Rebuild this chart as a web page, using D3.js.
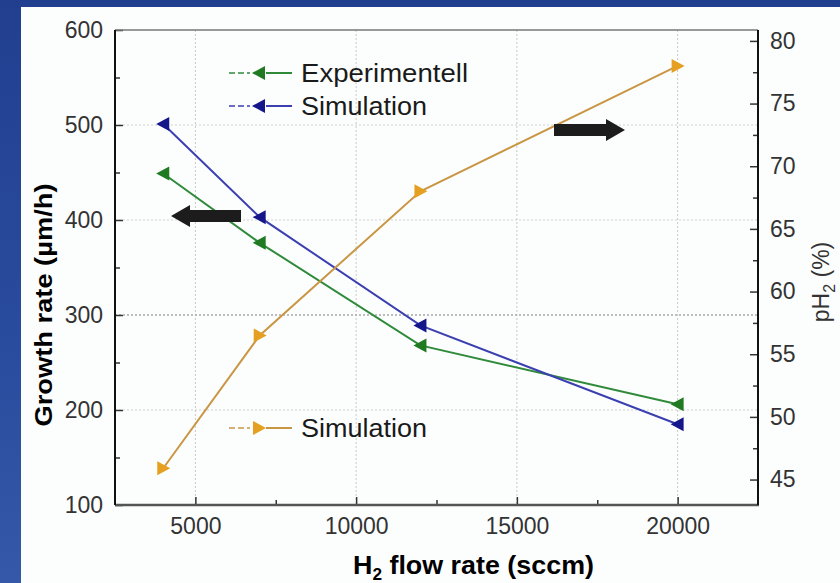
<!DOCTYPE html>
<html><head><meta charset="utf-8">
<script src="https://cdn.jsdelivr.net/npm/d3@7"></script>
<style>
html,body{margin:0;padding:0;background:#fff;}
svg{display:block;}
</style></head>
<body>
<svg id="c" width="840" height="583"></svg>
<script>
// ---- data ----
const flowRates = [4000, 7000, 12000, 20000];
const growthExperimentell = [449, 376, 268, 206];
const growthSimulation = [501, 403, 289, 185];
const pH2Simulation = [45.9, 56.5, 68.0, 78.0];
const xTicks = [5000, 10000, 15000, 20000];
const xMinorTicks = [7500, 12500, 17500];
const yLeftTicks = [100, 200, 300, 400, 500, 600];
const yLeftMinor = [150, 250, 350, 450, 550];
const yRightTicks = [45, 50, 55, 60, 65, 70, 75, 80];
const yRightMinor = [47.5, 52.5, 57.5, 62.5, 67.5, 72.5, 77.5];
const gridY = [200, 300, 400, 500];
const legendLabels = ["Experimentell", "Simulation", "Simulation"];

const svg = d3.select("#c");
const W = 840, H = 583;
const L = 115, R = 758, T = 30, B = 505;

// background
const defs = svg.append("defs");
const lg = defs.append("linearGradient").attr("id","bg").attr("x1","0").attr("y1","0").attr("x2","0").attr("y2","1");
lg.append("stop").attr("offset","0").attr("stop-color","#223f8f");
lg.append("stop").attr("offset","0.6").attr("stop-color","#2a4c9e");
lg.append("stop").attr("offset","1").attr("stop-color","#3558a8");
svg.append("rect").attr("width",W).attr("height",H).attr("fill","url(#bg)");
svg.append("rect").attr("x",21).attr("y",7).attr("width",W-21).attr("height",H-7).attr("fill","#fcfefe");

const x = d3.scaleLinear().domain([2500, 22500]).range([L, R]);
const yL = d3.scaleLinear().domain([100, 600]).range([B, T]);
const yR = d3.scaleLinear().domain([42.97, 80.87]).range([B, T]);

const g = svg.append("g");

// grid
g.selectAll("line.gx").data(xTicks).join("line")
  .attr("x1",d=>x(d)).attr("x2",d=>x(d)).attr("y1",T).attr("y2",B)
  .attr("stroke","#c8c8c8").attr("stroke-width",1).attr("stroke-dasharray","2,2");
g.selectAll("line.gy").data(gridY).join("line")
  .attr("x1",L).attr("x2",R).attr("y1",d=>yL(d)).attr("y2",d=>yL(d))
  .attr("stroke",d=>d===300?"#a8a8a8":"#cfcfcf").attr("stroke-width",d=>d===300?1.5:1).attr("stroke-dasharray","2,2");

// axes
const fontFam = "'Liberation Sans', Arial, sans-serif";
function styleAxis(sel){
  sel.select(".domain").remove();
  sel.selectAll(".tick line").attr("stroke","#333").attr("stroke-width",1.5);
  sel.selectAll(".tick text").attr("fill","#333").style("font-family",fontFam).style("font-size","23px");
}
const axL = svg.append("g").attr("transform",`translate(${L},0)`)
  .call(d3.axisLeft(yL).tickValues(yLeftTicks).tickSize(-8).tickPadding(12).tickSizeOuter(0));
styleAxis(axL);
const axLm = svg.append("g").attr("transform",`translate(${L},0)`)
  .call(d3.axisLeft(yL).tickValues(yLeftMinor).tickSize(-5).tickFormat("").tickSizeOuter(0));
styleAxis(axLm);

const axB = svg.append("g").attr("transform",`translate(0,${B})`)
  .call(d3.axisBottom(x).tickValues(xTicks).tickSize(-8).tickPadding(13).tickFormat(d3.format("d")).tickSizeOuter(0));
styleAxis(axB);
const axBm = svg.append("g").attr("transform",`translate(0,${B})`)
  .call(d3.axisBottom(x).tickValues(xMinorTicks).tickSize(-5).tickFormat("").tickSizeOuter(0));
styleAxis(axBm);

const axR = svg.append("g").attr("transform",`translate(${R},0)`)
  .call(d3.axisRight(yR).tickValues(yRightTicks).tickSize(-8).tickPadding(12).tickSizeOuter(0));
styleAxis(axR);
const axRm = svg.append("g").attr("transform",`translate(${R},0)`)
  .call(d3.axisRight(yR).tickValues(yRightMinor).tickSize(-5).tickFormat("").tickSizeOuter(0));
styleAxis(axRm);

// frame
svg.append("line").attr("x1",L).attr("x2",R).attr("y1",T).attr("y2",T).attr("stroke","#777").attr("stroke-width",1.5);
svg.append("line").attr("x1",L).attr("x2",R+1).attr("y1",B).attr("y2",B).attr("stroke","#555").attr("stroke-width",2.5);
svg.append("line").attr("x1",L).attr("x2",L).attr("y1",T).attr("y2",B).attr("stroke","#111").attr("stroke-width",2);
svg.append("line").attr("x1",R).attr("x2",R).attr("y1",T).attr("y2",B).attr("stroke","#111").attr("stroke-width",2);

// series
const series = [
  {vals: growthExperimentell, y: yL, line:"#2f8a3a", mark:"#1f7a22", dir:"left"},
  {vals: growthSimulation, y: yL, line:"#3b3fb0", mark:"#15168a", dir:"left"},
  {vals: pH2Simulation, y: yR, line:"#c99644", mark:"#e5a021", dir:"right"}
];
const triLeft = "M-7,0 L6,-7 L6,7 Z";
const triRight = "M7,0 L-6,-7 L-6,7 Z";
series.forEach(s=>{
  const pts = flowRates.map((f,i)=>[x(f), s.y(s.vals[i])]);
  g.append("path").attr("d", d3.line()(pts)).attr("fill","none")
    .attr("stroke",s.line).attr("stroke-width",2);
  g.selectAll(null).data(pts).join("path")
    .attr("transform",d=>`translate(${d[0]},${d[1]})`)
    .attr("d", s.dir==="left"?triLeft:triRight).attr("fill",s.mark);
});

// legend
const legY = [73, 106, 428];
series.forEach((s,i)=>{
  const lgp = svg.append("g");
  lgp.append("line").attr("x1",229).attr("x2",250).attr("y1",legY[i]).attr("y2",legY[i])
    .attr("stroke",s.line).attr("stroke-width",2).attr("stroke-dasharray","6,3").attr("opacity",0.75);
  lgp.append("line").attr("x1",266).attr("x2",292).attr("y1",legY[i]).attr("y2",legY[i])
    .attr("stroke",s.line).attr("stroke-width",2);
  lgp.append("path").attr("transform",`translate(259,${legY[i]})`)
    .attr("d", s.dir==="left"?triLeft:triRight).attr("fill",s.mark);
  lgp.append("text").attr("x",301).attr("y",legY[i]+9)
    .attr("textLength", i===0?167:126).attr("lengthAdjust","spacingAndGlyphs")
    .style("font-family",fontFam).style("font-size","25px").attr("fill","#1a1a1a")
    .text(legendLabels[i]);
});

// arrows
function arrow(x1, x2, yy){
  const dir = x2 > x1 ? 1 : -1;
  const headLen = 19, shaftH = 12, headH = 22;
  const hx = x2 - dir*headLen;
  const p = `M${x1},${yy-shaftH/2} L${hx},${yy-shaftH/2} L${hx},${yy-headH/2} L${x2},${yy} L${hx},${yy+headH/2} L${hx},${yy+shaftH/2} L${x1},${yy+shaftH/2} Z`;
  svg.append("path").attr("d",p).attr("fill","#1c1c1c");
}
arrow(241, 171, 216);
arrow(554, 625, 130);

// axis titles
svg.append("text").attr("transform","translate(52,305) rotate(-90)")
  .attr("text-anchor","middle").attr("textLength",243).attr("lengthAdjust","spacingAndGlyphs")
  .style("font-family",fontFam).style("font-size","24px").style("font-weight","bold").attr("fill","#000")
  .text("Growth rate (µm/h)");

const xt = svg.append("text").attr("x",353).attr("y",574)
  .style("font-family",fontFam).style("font-size","25px").style("font-weight","bold").attr("fill","#000");
xt.append("tspan").text("H");
xt.append("tspan").attr("dy",6).style("font-size","16px").text("2");
xt.append("tspan").attr("dy",-6).text(" flow rate (sccm)");
xt.attr("textLength",241).attr("lengthAdjust","spacingAndGlyphs");

const rt = svg.append("text").attr("transform","translate(829,282) rotate(-90)")
  .attr("text-anchor","middle")
  .style("font-family",fontFam).style("font-size","23px").attr("fill","#333");
rt.append("tspan").text("pH");
rt.append("tspan").attr("dy",6).style("font-size","16px").text("2");
rt.append("tspan").attr("dy",-6).text(" (%)");
</script>
</body></html>
